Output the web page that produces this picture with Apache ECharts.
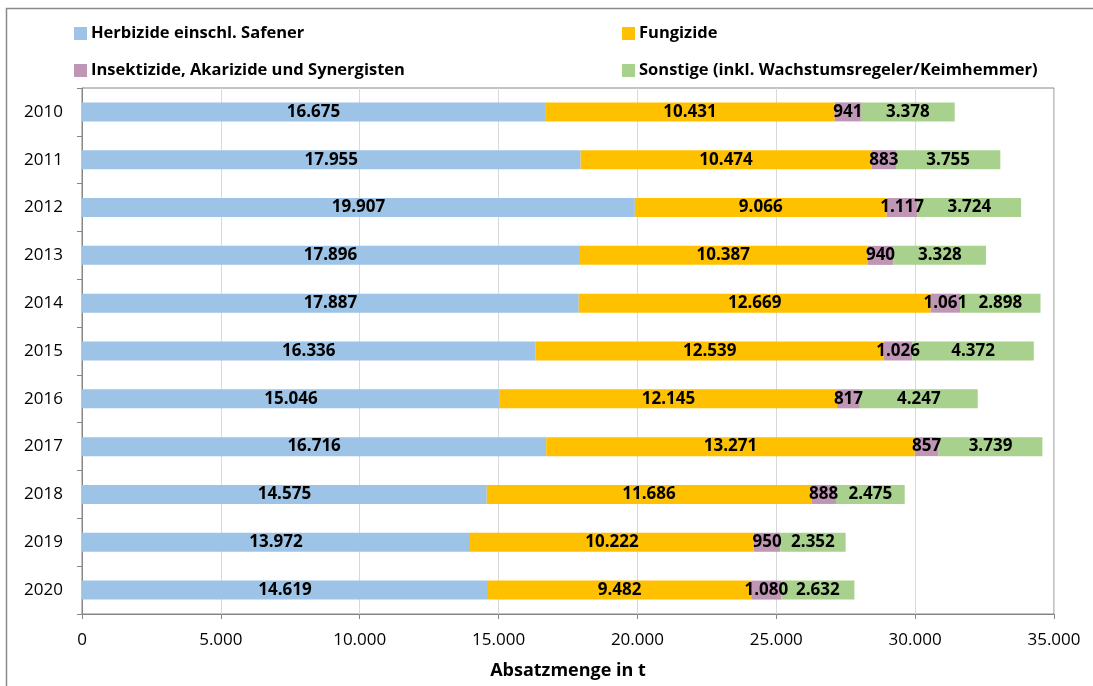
<!DOCTYPE html>
<html>
<head>
<meta charset="utf-8">
<script src="https://cdn.jsdelivr.net/npm/echarts@6/dist/echarts.min.js"></script>
<style>
  html, body { margin: 0; padding: 0; background: #fff; }
  #chart { width: 1093px; height: 686px; }
</style>
</head>
<body>
<div id="chart"></div>
<script>
// Absatzmenge von Pflanzenschutzmitteln nach Wirkstoffgruppe (t)
const years = ['2010', '2011', '2012', '2013', '2014', '2015', '2016', '2017', '2018', '2019', '2020'];
const herbizide = [16675, 17955, 19907, 17896, 17887, 16336, 15046, 16716, 14575, 13972, 14619];
const fungizide = [10431, 10474, 9066, 10387, 12669, 12539, 12145, 13271, 11686, 10222, 9482];
const insektizide = [941, 883, 1117, 940, 1061, 1026, 817, 857, 888, 950, 1080];
const sonstige = [3378, 3755, 3724, 3328, 2898, 4372, 4247, 3739, 2475, 2352, 2632];

const seriesNames = [
  'Herbizide einschl. Safener',
  'Fungizide',
  'Insektizide, Akarizide und Synergisten',
  'Sonstige (inkl. Wachstumsregeler/Keimhemmer)'
];
const seriesData = [herbizide, fungizide, insektizide, sonstige];
const colors = ['#9DC3E6', '#FFC000', '#BF96B4', '#A9D18E'];

const FONT = '"Open Sans", "Noto Sans", sans-serif';

// Tausendertrennzeichen als Punkt
function fmt(v) {
  return String(v).replace(/\B(?=(\d{3})+(?!\d))/g, '.');
}

const chart = echarts.init(document.getElementById('chart'), null, { renderer: 'canvas' });

const legendPos = [
  { left: 69, top: 20 },
  { left: 617, top: 20 },
  { left: 69, top: 57 },
  { left: 617, top: 57 }
];

const option = {
  backgroundColor: '#ffffff',
  animation: false,
  color: colors,
  textStyle: { fontFamily: FONT },
  graphic: [{
    type: 'rect',
    shape: { x: 6.5, y: 8.5, width: 1200, height: 800 },
    style: { fill: 'none', stroke: '#8a8a8a', lineWidth: 1.5 },
    silent: true
  }],
  legend: seriesNames.map((name, i) => ({
    data: [name],
    left: legendPos[i].left,
    top: legendPos[i].top,
    orient: 'horizontal',
    icon: 'rect',
    itemWidth: 13,
    itemHeight: 13,
    selectedMode: false,
    textStyle: {
      fontFamily: FONT,
      fontWeight: 'bold',
      fontSize: 16.5,
      color: '#000',
      padding: [0, 0, 0, -1]
    }
  })),
  grid: {
    left: 82,
    right: 39,
    top: 88,
    bottom: 72,
    show: true,
    borderColor: '#868686',
    borderWidth: 1,
    containLabel: false,
    outerBoundsMode: 'none'
  },
  xAxis: {
    type: 'value',
    min: 0,
    max: 35000,
    interval: 5000,
    name: 'Absatzmenge in t',
    nameLocation: 'middle',
    nameGap: 48,
    nameTextStyle: {
      fontFamily: FONT,
      fontWeight: 'bold',
      fontSize: 18,
      color: '#000'
    },
    axisLine: { show: true, lineStyle: { color: '#868686', width: 1 } },
    axisTick: { show: true, length: 5, lineStyle: { color: '#868686' } },
    axisLabel: {
      formatter: v => fmt(v),
      fontFamily: FONT,
      fontSize: 17,
      color: '#000',
      margin: 18
    },
    splitLine: { show: true, lineStyle: { color: '#d9d9d9', width: 1 } }
  },
  yAxis: {
    type: 'category',
    inverse: true,
    data: years,
    axisLine: { show: true, lineStyle: { color: '#868686', width: 1 } },
    axisTick: { show: true, length: 5, alignWithLabel: false, lineStyle: { color: '#868686' } },
    axisLabel: {
      fontFamily: FONT,
      fontSize: 17,
      color: '#000',
      margin: 19
    },
    splitLine: { show: false }
  },
  series: seriesNames.map((name, i) => ({
    name: name,
    type: 'bar',
    stack: 'total',
    barWidth: 19,
    data: seriesData[i],
    itemStyle: { color: colors[i] },
    label: {
      show: true,
      position: 'inside',
      formatter: p => fmt(p.value),
      fontFamily: FONT,
      fontWeight: 'bold',
      fontSize: 17,
      color: '#000',
      textBorderWidth: 0
    },
    emphasis: { disabled: true }
  }))
};

chart.setOption(option);
</script>
</body>
</html>
